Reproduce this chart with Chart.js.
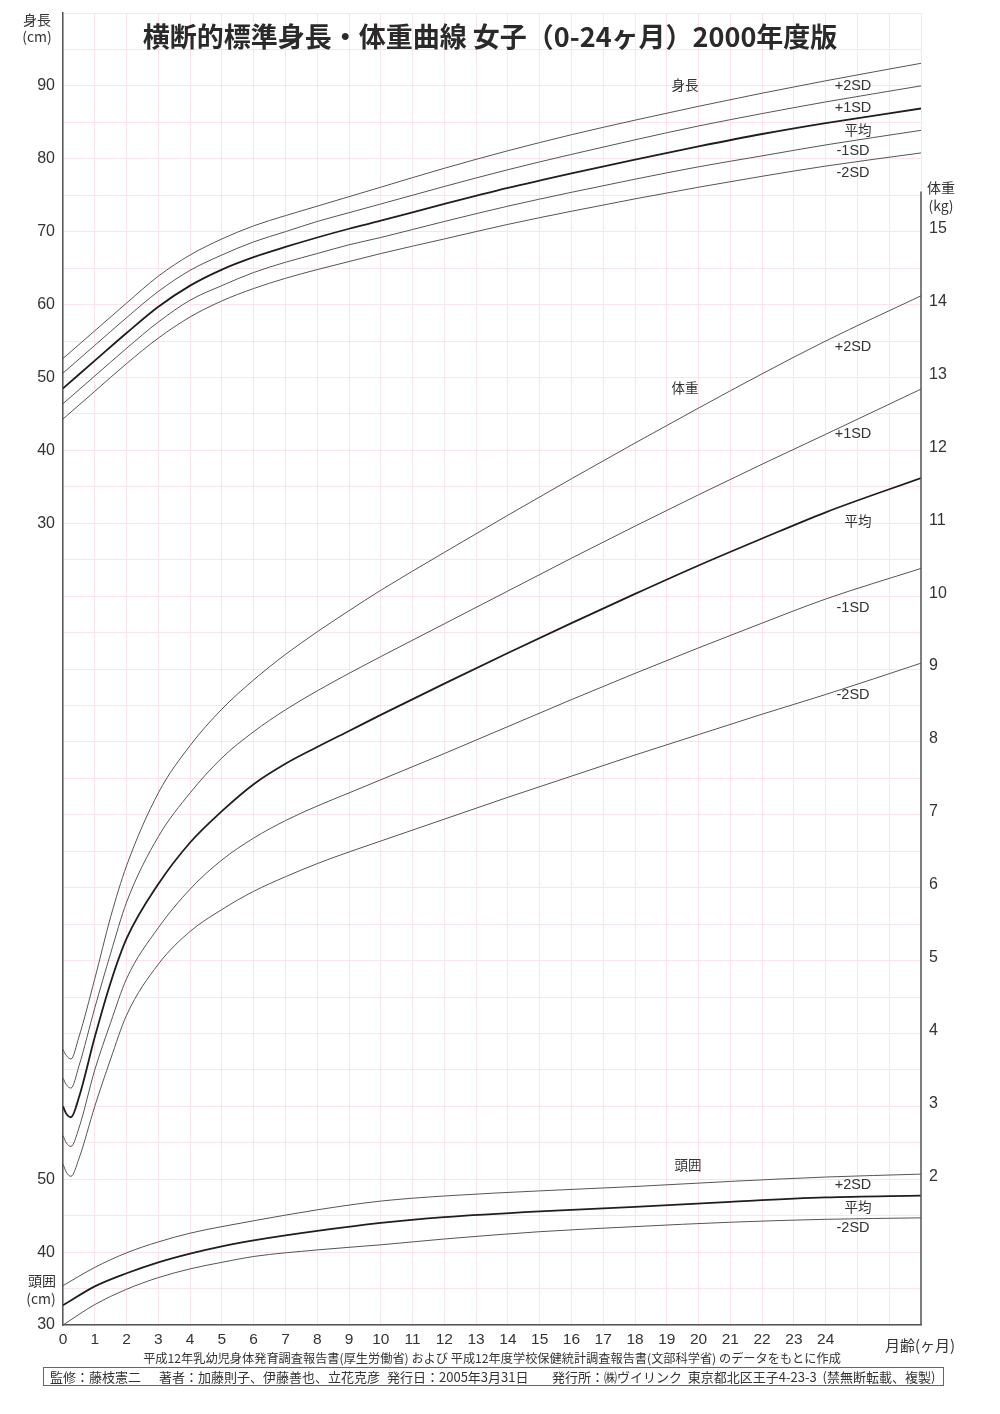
<!DOCTYPE html>
<html><head><meta charset="utf-8">
<script src="https://cdn.jsdelivr.net/npm/chart.js@4.4.1/dist/chart.umd.min.js"></script>
<style>html,body{margin:0;padding:0;background:#fff}canvas{display:block}</style>
</head><body>
<canvas id="c" width="1000" height="1414"></canvas>
<script>
// ---- data ----
const monthTicks = [0,1,2,3,4,5,6,7,8,9,10,11,12,13,14,15,16,17,18,19,20,21,22,23,24];

const heightMonths = [0, 1, 2, 3, 4, 5, 6, 7, 8, 9, 10, 12, 14, 16, 18, 20, 22, 24, 27];
const heightP2   = [52.6, 56.4, 60.2, 63.9, 66.8, 69.0, 70.8, 72.2, 73.5, 74.8, 76.1, 78.7, 81.1, 83.3, 85.3, 87.2, 89.0, 90.7, 93.1];
const heightP1   = [50.6, 54.4, 58.2, 61.8, 64.7, 66.8, 68.6, 70.0, 71.4, 72.6, 73.8, 76.2, 78.5, 80.6, 82.6, 84.5, 86.2, 87.8, 90.0];
const heightMean = [48.5, 52.3, 56.1, 59.7, 62.6, 64.8, 66.5, 67.9, 69.2, 70.4, 71.5, 73.8, 76.0, 78.0, 79.9, 81.7, 83.4, 84.9, 86.9];
const heightM1   = [46.4, 50.2, 54.0, 57.6, 60.6, 62.6, 64.4, 65.8, 67.0, 68.2, 69.2, 71.4, 73.5, 75.4, 77.2, 78.9, 80.4, 81.9, 83.9];
const heightM2   = [44.3, 48.1, 51.9, 55.4, 58.3, 60.5, 62.2, 63.6, 64.8, 65.9, 67.0, 69.0, 71.0, 72.8, 74.5, 76.1, 77.6, 79.0, 80.8];

const weightMonths = [0, 0.1, 0.25, 0.5, 1, 1.5, 2, 3, 4, 5, 6, 7, 8, 9, 10, 12, 14, 16, 18, 20, 22, 24, 27];
const weightP2   = [3.78, 3.70, 3.65, 3.95, 4.75, 5.60, 6.30, 7.30, 7.95, 8.45, 8.85, 9.20, 9.51, 9.80, 10.08, 10.60, 11.11, 11.61, 12.10, 12.58, 13.05, 13.50, 14.12];
const weightP1   = [3.39, 3.30, 3.25, 3.55, 4.35, 5.10, 5.80, 6.70, 7.30, 7.78, 8.14, 8.44, 8.70, 8.94, 9.17, 9.62, 10.07, 10.52, 10.96, 11.39, 11.81, 12.22, 12.84];
const weightMean = [3.00, 2.90, 2.85, 3.12, 3.95, 4.70, 5.30, 6.05, 6.62, 7.05, 7.42, 7.70, 7.93, 8.15, 8.37, 8.80, 9.22, 9.63, 10.03, 10.42, 10.79, 11.15, 11.62];
const weightM1   = [2.60, 2.50, 2.45, 2.70, 3.50, 4.15, 4.75, 5.45, 5.98, 6.38, 6.68, 6.92, 7.12, 7.30, 7.48, 7.84, 8.21, 8.58, 8.94, 9.29, 9.63, 9.96, 10.38];
const weightM2   = [2.21, 2.10, 2.04, 2.28, 3.00, 3.65, 4.25, 4.95, 5.40, 5.70, 5.95, 6.15, 6.33, 6.49, 6.64, 6.94, 7.24, 7.53, 7.82, 8.10, 8.38, 8.65, 9.08];

const headMonths = [0, 1, 2, 3, 4, 5, 6, 8, 10, 12, 15, 18, 21, 24, 27];
const headP2   = [35.4, 37.9, 39.9, 41.4, 42.6, 43.5, 44.3, 45.8, 47.0, 47.7, 48.4, 49.0, 49.7, 50.3, 50.7];
const headMean = [32.7, 35.3, 37.1, 38.6, 39.8, 40.8, 41.6, 42.9, 44.0, 44.8, 45.6, 46.2, 46.9, 47.5, 47.75];
const headM2   = [30.0, 32.8, 34.9, 36.5, 37.7, 38.6, 39.4, 40.3, 41.0, 41.8, 42.8, 43.5, 44.1, 44.5, 44.7];

const heightTickLabels = [30, 40, 50, 60, 70, 80, 90];
const headTickLabels = [30, 40, 50];
const weightTickLabels = [2,3,4,5,6,7,8,9,10,11,12,13,14,15];

const sdNames = ['+2SD', '+1SD', '平均', '-1SD', '-2SD'];
const headSdNames = ['+2SD', '平均', '-2SD'];

// ---- chart ----
const HEAD_OFFSET = 110;   // head circumference shares the left scale, shifted down
const numFont = '"Liberation Sans", "Noto Sans CJK JP", sans-serif';
const jpFont = '"Noto Sans CJK JP", sans-serif';
const gridColor = '#fae3e9';

function pts(xs, ys) { return xs.map((x, i) => ({ x: x, y: ys[i] })); }
function ds(xs, ys, axis, mean) {
  return {
    data: pts(xs, ys), yAxisID: axis,
    borderColor: mean ? '#1e1e1e' : '#555',
    borderWidth: mean ? 1.8 : 1,
    pointRadius: 0, cubicInterpolationMode: 'monotone', fill: false
  };
}
const datasets = [
  ds(heightMonths, heightP2, 'yL', false),
  ds(heightMonths, heightP1, 'yL', false),
  ds(heightMonths, heightMean, 'yL', true),
  ds(heightMonths, heightM1, 'yL', false),
  ds(heightMonths, heightM2, 'yL', false),
  ds(weightMonths, weightP2, 'yR', false),
  ds(weightMonths, weightP1, 'yR', false),
  ds(weightMonths, weightMean, 'yR', true),
  ds(weightMonths, weightM1, 'yR', false),
  ds(weightMonths, weightM2, 'yR', false),
  ds(headMonths, headP2, 'yH', false),
  ds(headMonths, headMean, 'yH', true),
  ds(headMonths, headM2, 'yH', false)
];

function noPad(s) { s.paddingTop = 0; s.paddingBottom = 0; s.paddingLeft = 0; s.paddingRight = 0; }

const textPlugin = {
  id: 'texts',
  beforeDraw(chart) {
    const c = chart.ctx;
    c.save(); c.fillStyle = '#fff'; c.fillRect(0, 0, chart.width, chart.height); c.restore();
  },
  afterDraw(chart) {
    const c = chart.ctx, a = chart.chartArea;
    const yR = chart.scales.yR;
    c.save();
    // partial right border (weight axis)
    c.strokeStyle = '#555'; c.lineWidth = 1.5;
    c.beginPath(); c.moveTo(a.right, yR.getPixelForValue(15.55)); c.lineTo(a.right, a.bottom); c.stroke();

    // title
    c.fillStyle = '#2a2a2a';
    c.textAlign = 'center'; c.textBaseline = 'middle';
    c.font = 'bold 27px ' + jpFont;
    c.fillText('横断的標準身長・体重曲線 女子（0-24ヶ月）2000年度版', 490, 37);

    // axis titles
    c.fillStyle = '#333';
    c.font = '14px ' + jpFont;
    c.fillText('身長', 37, 20);
    c.fillText('(cm)', 37, 37);
    c.fillText('頭囲', 42, 1281);
    c.fillText('(cm)', 41, 1299);
    c.fillText('体重', 941, 188);
    c.fillText('(kg)', 941, 206);
    c.font = '15px ' + jpFont;
    c.fillText('月齢(ヶ月)', 920, 1345);

    // curve labels
    c.font = '13.5px ' + jpFont;
    c.fillText('身長', 685, 85);
    c.fillText('体重', 685, 388);
    c.fillText('頭囲', 688, 1165);
    const hy = [86, 108, 130, 151, 173];
    const wy = [347, 434, 521, 608, 695];
    const cy = [1185, 1207, 1228];
    function lbl(t, y) {
      if (t === '平均') { c.font = '13.5px ' + jpFont; c.fillText(t, 858, y); }
      else { c.font = '14.5px ' + numFont; c.fillText(t, 853, y); }
    }
    sdNames.forEach((t, i) => lbl(t, hy[i]));
    sdNames.forEach((t, i) => lbl(t, wy[i]));
    headSdNames.forEach((t, i) => lbl(t, cy[i]));

    // source line
    c.font = '12.2px ' + jpFont;
    c.fillStyle = '#333';
    c.fillText('平成12年乳幼児身体発育調査報告書(厚生労働省) および 平成12年度学校保健統計調査報告書(文部科学省) のデータをもとに作成', 492, 1358);

    // footer box
    c.strokeStyle = '#666'; c.lineWidth = 1;
    c.strokeRect(43.5, 1367.5, 900, 18);
    c.textAlign = 'left';
    c.font = '13px ' + jpFont;
    c.fillText('監修：藤枝憲二', 50, 1377);
    c.fillText('著者：加藤則子、伊藤善也、立花克彦', 159, 1377);
    c.fillText('発行日：2005年3月31日', 387, 1377);
    c.fillText('発行所：㈱ヴイリンク  東京都北区王子4-23-3  (禁無断転載、複製)', 552, 1377);
    c.restore();
  }
};

new Chart(document.getElementById('c'), {
  type: 'line',
  data: { datasets: datasets },
  plugins: [textPlugin],
  options: {
    responsive: false, animation: false, devicePixelRatio: 1,
    layout: { padding: { top: 13, left: 0, right: 0, bottom: 0 } },
    plugins: { legend: { display: false }, tooltip: { enabled: false }, title: { display: false } },
    scales: {
      x: {
        type: 'linear', min: 0, max: 27,
        ticks: {
          stepSize: 1, autoSkip: false, maxRotation: 0, padding: 5,
          color: '#333', font: { family: numFont, size: 15.5 },
          callback: v => monthTicks.includes(v) ? String(v) : ''
        },
        grid: { color: gridColor, lineWidth: 1, drawTicks: false },
        border: { color: '#555', width: 1.5 },
        afterFit: s => { s.height = 89; noPad(s); }
      },
      yL: {
        type: 'linear', position: 'left', min: -80, max: 100,
        ticks: {
          stepSize: 5, autoSkip: false, padding: 8,
          color: '#333', font: { family: numFont, size: 16 },
          callback: v => {
            if (heightTickLabels.includes(v)) return String(v);
            if (headTickLabels.includes(v + HEAD_OFFSET)) return String(v + HEAD_OFFSET);
            return '';
          }
        },
        grid: { color: gridColor, lineWidth: 1, drawTicks: false },
        border: { color: '#555', width: 1.5 },
        afterFit: s => { s.width = 63; noPad(s); }
      },
      yR: {
        type: 'linear', position: 'right', min: 0, max: 18,
        ticks: {
          stepSize: 1, autoSkip: false, padding: 8, labelOffset: -3,
          color: '#333', font: { family: numFont, size: 16 },
          callback: v => weightTickLabels.includes(v) ? String(v) : ''
        },
        grid: { display: false, drawTicks: false },
        border: { display: false },
        afterFit: s => { s.width = 79; noPad(s); }
      },
      yH: { type: 'linear', display: false, min: -80 + HEAD_OFFSET, max: 100 + HEAD_OFFSET }
    }
  }
});
</script>
</body></html>
